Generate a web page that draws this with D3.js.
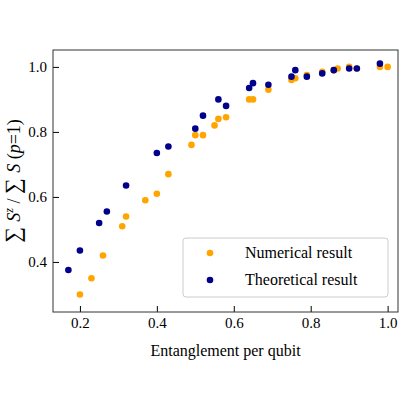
<!DOCTYPE html>
<html><head><meta charset="utf-8">
<script src="https://cdn.jsdelivr.net/npm/d3@7"></script>
<style>body{margin:0;background:#fff}text{font-family:"Liberation Serif","DejaVu Serif",serif}</style>
</head><body><div id="chart"></div>
<script>
// numerical result points
const numX = [0.20,0.23,0.26,0.31,0.32,0.37,0.40,0.43,0.49,0.50,0.52,0.55,0.56,0.58,0.64,0.65,0.69,0.75,0.76,0.79,0.83,0.86,0.87,0.90,0.92,0.98,1.00];
const numY = [0.30,0.35,0.42,0.51,0.54,0.59,0.61,0.67,0.76,0.79,0.79,0.82,0.84,0.845,0.90,0.90,0.93,0.96,0.965,0.975,0.985,0.99,0.995,1.0,0.995,1.0,1.0];
// theoretical result points
const thX = [0.17,0.20,0.25,0.27,0.32,0.40,0.43,0.50,0.52,0.56,0.58,0.64,0.65,0.69,0.75,0.76,0.79,0.83,0.86,0.90,0.92,0.98];
const thY = [0.375,0.435,0.52,0.555,0.635,0.735,0.755,0.81,0.85,0.90,0.88,0.935,0.95,0.945,0.97,0.99,0.97,0.98,0.99,0.995,0.995,1.01];
const xTicks = [0.2,0.4,0.6,0.8,1.0];
const yTicks = [0.4,0.6,0.8,1.0];

const W = 400, H = 400;
const m = {top: 50, right: 2, bottom: 88, left: 53};
const svg = d3.select("#chart").append("svg").attr("width", W).attr("height", H);
const g = svg.append("g").attr("transform", `translate(${m.left},${m.top})`);
const w = W - m.left - m.right, h = H - m.top - m.bottom;

const x = d3.scaleLinear().domain([0.13, 1.027]).range([0, w]);
const y = d3.scaleLinear().domain([0.246, 1.052]).range([h, 0]);

// axes with inward ticks
const xa = g.append("g").attr("transform", `translate(0,${h})`)
  .call(d3.axisBottom(x).tickValues(xTicks).tickFormat(d3.format(".1f")).tickSizeInner(-6).tickSizeOuter(0).tickPadding(5));
const ya = g.append("g")
  .call(d3.axisLeft(y).tickValues(yTicks).tickFormat(d3.format(".1f")).tickSizeInner(-6).tickSizeOuter(0).tickPadding(6));
[xa, ya].forEach(a => { a.selectAll("text").attr("font-size", 15).attr("fill", "#000"); a.select(".domain").remove(); });
g.append("rect").attr("width", w).attr("height", h).attr("fill", "none").attr("stroke", "#333").attr("stroke-width", 1);

g.selectAll(".num").data(numX).enter().append("circle")
  .attr("cx", d => x(d)).attr("cy", (d, i) => y(numY[i])).attr("r", 3.3).attr("fill", "orange");
g.selectAll(".th").data(thX).enter().append("circle")
  .attr("cx", d => x(d)).attr("cy", (d, i) => y(thY[i])).attr("r", 3.3).attr("fill", "#00008b");

// legend
const lg = g.append("g").attr("transform", `translate(${183 - m.left},${238 - m.top})`);
lg.append("rect").attr("width", 205).attr("height", 59).attr("rx", 3).attr("fill", "#fff").attr("stroke", "#ccc");
[["orange", "Numerical result"], ["#00008b", "Theoretical result"]].forEach((d, i) => {
  lg.append("circle").attr("cx", 27).attr("cy", 15 + i * 27).attr("r", 3.3).attr("fill", d[0]);
  lg.append("text").attr("x", 62).attr("y", 20 + i * 27).attr("font-size", 16).text(d[1]);
});

svg.append("text").attr("x", m.left + w / 2).attr("y", 356).attr("text-anchor", "middle").attr("font-size", 16).text("Entanglement per qubit");
const yl = svg.append("text").attr("transform", `translate(20,${m.top + h / 2}) rotate(-90)`).attr("text-anchor", "middle").attr("font-size", 18);
yl.append("tspan").attr("font-size", 22).text("∑ ");
yl.append("tspan").attr("font-style", "italic").text("S");
yl.append("tspan").attr("font-style", "italic").attr("font-size", 12).attr("dy", -7).text("z");
yl.append("tspan").attr("dy", 7).text(" / ");
yl.append("tspan").attr("font-size", 22).text("∑ ");
yl.append("tspan").attr("font-style", "italic").text("S");
yl.append("tspan").text("  (");
yl.append("tspan").attr("font-style", "italic").text("p");
yl.append("tspan").text("=1)");
</script></body></html>
